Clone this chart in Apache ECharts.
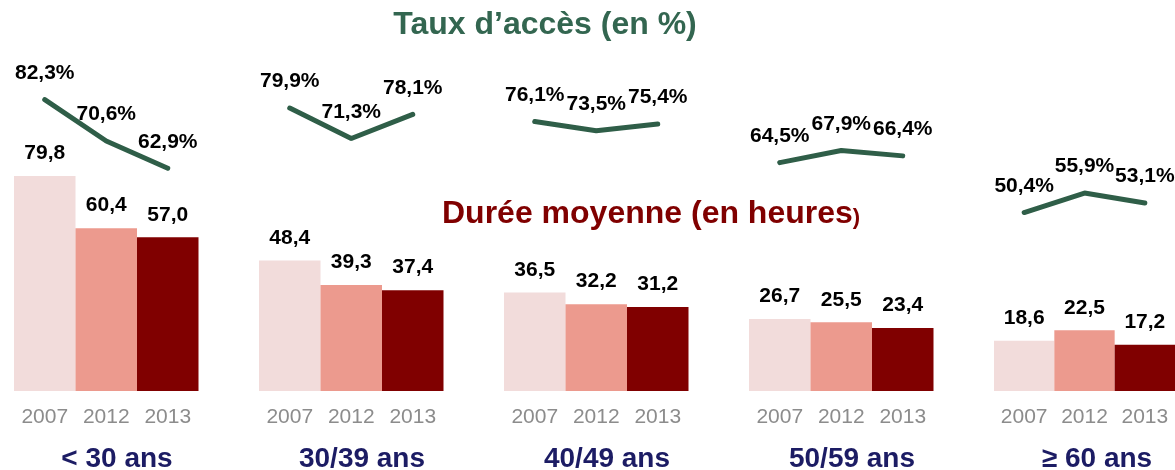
<!DOCTYPE html>
<html>
<head>
<meta charset="utf-8">
<script src="https://cdn.jsdelivr.net/npm/echarts@6/dist/echarts.min.js"></script>
<style>
html,body{margin:0;padding:0;background:#fff;}
#main{width:1175px;height:470px;}
</style>
</head>
<body>
<div id="main"></div>
<script>
// données
var annees = ['2007', '2012', '2013'];
var tranches = ['< 30 ans', '30/39 ans', '40/49 ans', '50/59 ans', '\u2265 60 ans'];
var duree2007 = [79.8, 48.4, 36.5, 26.7, 18.6];
var duree2012 = [60.4, 39.3, 32.2, 25.5, 22.5];
var duree2013 = [57.0, 37.4, 31.2, 23.4, 17.2];
var acces2007 = [82.3, 79.9, 76.1, 64.5, 50.4];
var acces2012 = [70.6, 71.3, 73.5, 67.9, 55.9];
var acces2013 = [62.9, 78.1, 75.4, 66.4, 53.1];

var couleursBarres = ['#f2dcdb', '#ec9a8e', '#800000'];
var vert = '#2f5e48';

function virgule(v){
	return v.toFixed(1).replace('.', ',');
}

var myChart = echarts.init(document.getElementById('main'));

var grid = [], xAxis = [], yAxis = [], series = [], title = [];

title.push({
	text: 'Taux d\u2019acc\u00e8s (en %)',
	left: 540, top: 4, textAlign: 'center',
	textStyle: {color: '#336650', fontSize: 32, fontWeight: 'bold', fontFamily: 'Liberation Sans'}
});
title.push({
	text: '{a|Dur\u00e9e moyenne (en heures}{b|)}',
	left: 437, top: 193,
	textStyle: {
		rich: {
			a: {color: '#800000', fontSize: 32, fontWeight: 'bold', fontFamily: 'Liberation Sans'},
			b: {color: '#800000', fontSize: 22, fontWeight: 'bold', fontFamily: 'Liberation Sans', padding: [7, 0, 0, 0]}
		}
	}
});

for (var i = 0; i < tranches.length; i++) {
	var gauche = 14 + 245 * i;
	grid.push({left: gauche, top: 50, width: 184.5, height: 341});
	xAxis.push({
		type: 'category', gridIndex: i, data: annees,
		axisLine: {show: false}, axisTick: {show: false},
		axisLabel: {interval: 0, margin: 16, color: '#8c8c8c', fontSize: 21, fontFamily: 'Liberation Sans'}
	});
	yAxis.push({type: 'value', gridIndex: i, min: 0, max: 126.5, show: false});
	yAxis.push({type: 'value', gridIndex: i, min: 0, max: 96.3, show: false});

	var barres = [duree2007[i], duree2012[i], duree2013[i]];
	var dataBarres = [];
	for (var j = 0; j < barres.length; j++) {
		dataBarres.push({value: barres[j], itemStyle: {color: couleursBarres[j]}});
	}
	series.push({
		type: 'bar', xAxisIndex: i, yAxisIndex: 2 * i,
		barWidth: '100%', barGap: 0, data: dataBarres,
		label: {
			show: true, position: 'top', distance: 12,
			color: '#000', fontSize: 21, fontWeight: 'bold', fontFamily: 'Liberation Sans',
			formatter: function(p){ return virgule(p.value); }
		}
	});
	series.push({
		type: 'line', xAxisIndex: i, yAxisIndex: 2 * i + 1,
		data: [acces2007[i], acces2012[i], acces2013[i]],
		symbol: 'circle', symbolSize: 4,
		itemStyle: {color: vert},
		lineStyle: {color: vert, width: 5, cap: 'round'},
		label: {
			show: true, position: 'top', distance: 14,
			color: '#000', fontSize: 21, fontWeight: 'bold', fontFamily: 'Liberation Sans',
			formatter: function(p){ return virgule(p.value) + '%'; }
		}
	});
	title.push({
		text: tranches[i],
		left: gauche + 92 + 6, top: 440, textAlign: 'center',
		textStyle: {color: '#1c1c64', fontSize: 28, fontWeight: 'bold', fontFamily: 'Liberation Sans'}
	});
}

var option = {
	animation: false,
	title: title,
	grid: grid,
	xAxis: xAxis,
	yAxis: yAxis,
	series: series
};
myChart.setOption(option);
</script>
</body>
</html>
